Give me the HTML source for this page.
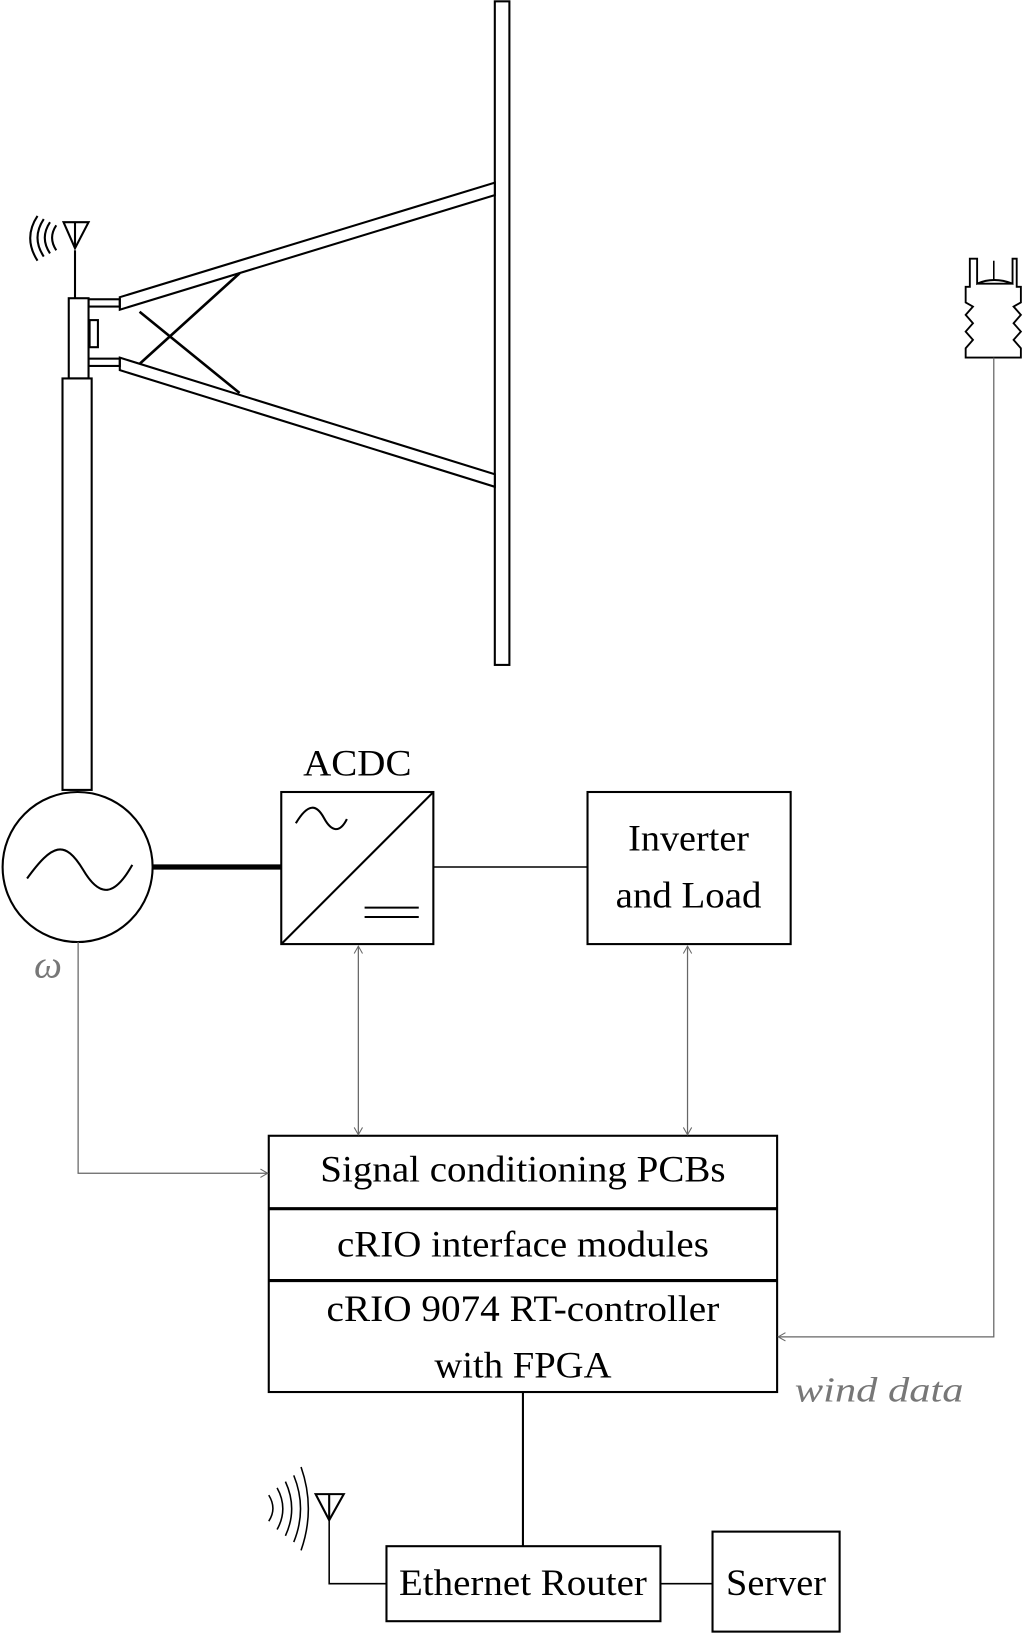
<!DOCTYPE html>
<html><head><meta charset="utf-8"><style>html,body{margin:0;padding:0;background:#fff}svg{display:block}</style></head>
<body>
<svg width="1024" height="1634" viewBox="0 0 983 1568" xmlns="http://www.w3.org/2000/svg" font-family="'Liberation Serif', serif">
<defs>
<marker id="ah" markerWidth="10" markerHeight="10" refX="8" refY="5" orient="auto-start-reverse" markerUnits="userSpaceOnUse">
<path d="M1,1 L8,5 L1,9" fill="none" stroke="#666" stroke-width="1"/>
</marker>
</defs>
<g fill="none" stroke="#000" stroke-width="2">
<rect x="475" y="1" width="14" height="637" fill="#fff"/>
<polygon points="115,285 475,175 475,187 115,297" fill="#fff"/>
<polygon points="115,343 475,455 475,467 115,355" fill="#fff"/>
<line x1="134" y1="299" x2="230" y2="377" stroke-width="2.5"/>
<line x1="134" y1="349" x2="230" y2="262" stroke-width="2.5"/>
<rect x="85" y="287" width="30" height="7"/>
<rect x="85" y="344" width="30" height="7"/>
<rect x="86" y="307" width="8" height="26"/>
<rect x="66" y="286" width="19" height="77" fill="#fff"/>
<rect x="60" y="363" width="28" height="395" fill="#fff"/>
<line x1="72" y1="240" x2="72" y2="286"/>
<polygon points="61,213 85,213 72,238"/>
<line x1="72" y1="213" x2="72" y2="238"/>
<path d="M36,207 Q22,228 36,250 M42,210 Q30,228 42,246 M48,213 Q38,228 48,243 M54,216 Q46,228 54,240"/>
<circle cx="74.5" cy="832" r="72"/>
<path d="M26,843 C50,810 62,805 80,835 C96,862 110,860 127,830"/>
<line x1="147" y1="832" x2="270" y2="832" stroke-width="5"/>
<rect x="270" y="760" width="146" height="146"/>
<line x1="270" y1="906" x2="416" y2="760"/>
<path d="M284,790 C296,770 304,772 311,785 C318,798 326,800 333,786"/>
<line x1="350" y1="871" x2="402" y2="871"/><line x1="350" y1="880" x2="402" y2="880"/>
<line x1="416" y1="832" x2="564" y2="832" stroke-width="1.5"/>
<rect x="564" y="760" width="195" height="146"/>
<rect x="258" y="1090" width="488" height="246"/>
<line x1="258" y1="1160" x2="746" y2="1160" stroke-width="3"/>
<line x1="258" y1="1229" x2="746" y2="1229" stroke-width="3"/>
<line x1="502" y1="1336" x2="502" y2="1484"/>
<rect x="371" y="1484" width="263" height="72"/>
<rect x="684" y="1470" width="122" height="96"/>
<line x1="634" y1="1520" x2="684" y2="1520" stroke-width="1.5"/>
<polyline points="316,1459 316,1520 371,1520" stroke-width="1.5"/>
<polygon points="303,1434 330,1434 316,1459"/>
<line x1="316" y1="1434" x2="316" y2="1459"/>
<path d="M258,1435 Q266,1448 258,1460 M266,1428 Q277,1448 266,1468 M274,1422 Q286,1448 274,1474 M282,1416 Q295,1448 282,1480 M289,1408 Q303,1448 289,1488" stroke-width="1.5"/>
<path d="M931,248 L931,275 L927,275 L927,290 L934,294 L927,302 L934,310 L927,318 L934,326 L927,334 L927,343 L980,343 L980,334 L973,326 L980,318 L973,310 L980,302 L973,294 L980,290 L980,275 L976,275 L976,248 L972,248 L972,272 Q954,265 938,272 L938,248 Z M938,272 L972,272" stroke-width="1.8"/>
<line x1="954" y1="250" x2="954" y2="268" stroke-width="1.5"/>
</g>
<g fill="none" stroke="#666" stroke-width="1.2">
<line x1="344" y1="908" x2="344" y2="1089" marker-start="url(#ah)" marker-end="url(#ah)"/>
<line x1="660" y1="908" x2="660" y2="1089" marker-start="url(#ah)" marker-end="url(#ah)"/>
<polyline points="75,904 75,1126 257,1126" marker-end="url(#ah)"/>
<polyline points="954,343 954,1283 747,1283" marker-end="url(#ah)"/>
</g>
<g font-size="36" text-anchor="middle" fill="#000">
<text x="343" y="744" textLength="104" lengthAdjust="spacingAndGlyphs">ACDC</text>
<text x="661" y="816" textLength="116" lengthAdjust="spacingAndGlyphs">Inverter</text>
<text x="661" y="871" textLength="140" lengthAdjust="spacingAndGlyphs">and Load</text>
<text x="502" y="1134" textLength="389" lengthAdjust="spacingAndGlyphs">Signal conditioning PCBs</text>
<text x="502" y="1206" textLength="357" lengthAdjust="spacingAndGlyphs">cRIO interface modules</text>
<text x="502" y="1268" textLength="377" lengthAdjust="spacingAndGlyphs">cRIO 9074 RT-controller</text>
<text x="502" y="1322" textLength="170" lengthAdjust="spacingAndGlyphs">with FPGA</text>
<text x="502" y="1531" textLength="238" lengthAdjust="spacingAndGlyphs">Ethernet Router</text>
<text x="745" y="1531" textLength="96" lengthAdjust="spacingAndGlyphs">Server</text>
<text x="844" y="1345" font-style="italic" fill="#777" font-size="34" textLength="162" lengthAdjust="spacingAndGlyphs">wind data</text>
<text x="46" y="938" font-style="italic" fill="#777" font-size="38">ω</text>
</g>
</svg>
</body></html>
